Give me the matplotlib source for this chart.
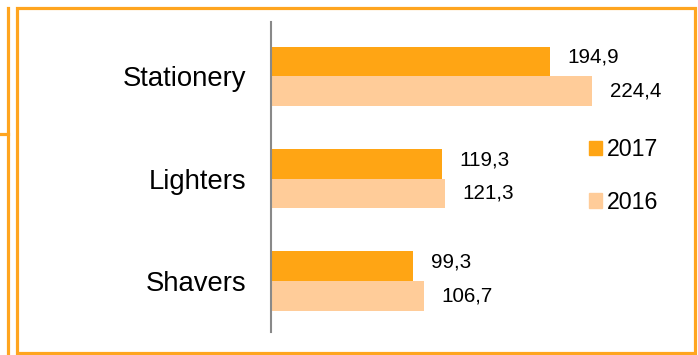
import matplotlib
matplotlib.use("Agg")
import matplotlib.pyplot as plt
from matplotlib.patches import Rectangle, Patch
from matplotlib.lines import Line2D
import numpy as np

plt.rcParams['font.family'] = ['Liberation Sans', 'DejaVu Sans']

categories = ["Stationery", "Lighters", "Shavers"]
values_2017 = [194.9, 119.3, 99.3]
values_2016 = [224.4, 121.3, 106.7]
series_labels = ["2017", "2016"]

c2017 = "#FFA514"
c2016 = "#FFCC99"
orange = "#FFA51F"

W, H = 698, 355
fig = plt.figure(figsize=(W / 100, H / 100), dpi=100)

def fx(px):
    return px / W

def fy(py):
    return 1 - py / H

# axes placement
ax_left, ax_right, ax_top, ax_bot = 271, 629, 22, 332
ax = fig.add_axes([fx(ax_left), fy(ax_bot), fx(ax_right - ax_left), (ax_bot - ax_top) / H])

y = np.arange(len(categories))
bh = 0.29
ax.barh(y - bh / 2, values_2017, height=bh, color=c2017, label=series_labels[0])
ax.barh(y + bh / 2, values_2016, height=bh, color=c2016, label=series_labels[1])

ax.set_xlim(0, 250)
ax.set_ylim(2.5, -0.53)
ax.set_yticks(y)
ax.set_yticklabels(categories, fontsize=19.8)
ax.tick_params(axis='y', length=0, pad=17.5)
ax.set_xticks([])
for s in ["top", "right", "bottom"]:
    ax.spines[s].set_visible(False)
ax.spines["left"].set_color("#898989")
ax.spines["left"].set_linewidth(1.5)

for yi, v in zip(y, values_2017):
    ax.annotate(f"{v:.1f}".replace(".", ","), xy=(v, yi - bh / 2), xytext=(12.5, 3),
                textcoords="offset points", ha="left", va="center", fontsize=14.9)
for yi, v in zip(y, values_2016):
    ax.annotate(f"{v:.1f}".replace(".", ","), xy=(v, yi + bh / 2), xytext=(12.5, 0),
                textcoords="offset points", ha="left", va="center", fontsize=14.9)

handles = [Patch(color=c2017), Patch(color=c2016)]
fig.legend(handles, series_labels, loc="upper left", bbox_to_anchor=(fx(589), fy(138)),
           frameon=False, fontsize=16.7, handlelength=0.56, handleheight=0.56,
           handletextpad=0.22, labelspacing=1.28, borderpad=0, borderaxespad=0)

# decorative frame
fig.patches.append(Rectangle((fx(16.5), fy(353)), fx(695 - 16.5), (353 - 8) / H,
                             transform=fig.transFigure, fill=False, edgecolor=orange,
                             linewidth=2.3, zorder=10))
fig.lines.append(Line2D([fx(8), fx(8)], [fy(8), fy(355)], transform=fig.transFigure,
                        color=orange, linewidth=2.3))
fig.lines.append(Line2D([fx(0), fx(8)], [fy(134), fy(134)], transform=fig.transFigure,
                        color=orange, linewidth=2.3))

fig.savefig("out.png", dpi=100)
